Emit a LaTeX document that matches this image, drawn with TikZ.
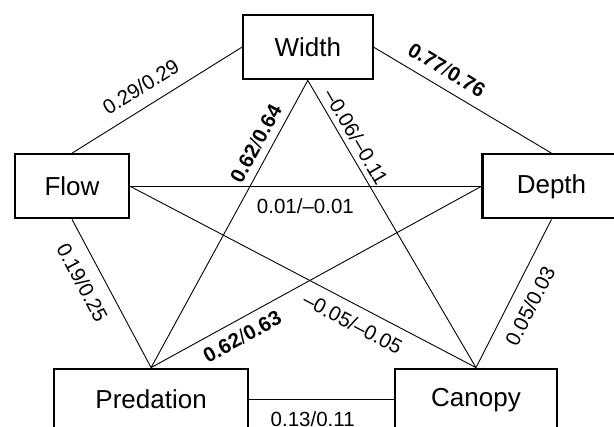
\documentclass[tikz,border=0pt]{standalone}
\usepackage{fontspec}
\setmainfont{Liberation Sans}
\begin{document}
\begin{tikzpicture}[x=1pt,y=-1pt,
  box/.style={draw=black, line width=2.2pt, fill=white, rectangle, inner sep=0pt,
    font=\fontsize{26}{31}\selectfont},
  link/.style={line width=0.9pt},
  lbl/.style={font=\fontsize{20.5}{24}\selectfont, inner sep=0pt, sloped},
]
\useasboundingbox (0,0) rectangle (614,427);
\clip (0,0) rectangle (614,427);
\node[box, minimum width=130pt, minimum height=64pt] (W) at (307.8,47.3) {Width};
\node[box, minimum width=114pt, minimum height=64pt] (F) at (72,186.3) {Flow};
\node[box, minimum width=138pt, minimum height=64pt] (D) at (551.5,186.3) {Depth};
\node[box, minimum width=194.4pt, minimum height=62pt] (P) at (151.1,399.7) {Predation};
\node[box, minimum width=162pt, minimum height=62pt] (C) at (476,399.7) {Canopy};

\draw[link] (W.west) -- node[lbl, pos=0.533, anchor=south, outer sep=12.3pt] {0.29/0.29} (F.north);
\draw[link] (W.east) -- node[lbl, pos=0.359, anchor=south, outer sep=10.6pt] {\textbf{0.77}/\textbf{0.76}} (D.north);
\draw[link] (P.north) -- node[lbl, pos=0.7555, anchor=south, outer sep=8.2pt] {\textbf{0.62}/\textbf{0.64}} (W.south);
\draw[link] (W.south) -- node[lbl, pos=0.219, anchor=south, outer sep=5.7pt] {–0.06/–0.11} (C.north);
\draw[link] (F.east) -- node[lbl, pos=0.499, anchor=north, outer sep=12.6pt] {0.01/–0.01} (D.west);
\draw[link] (F.south) -- node[lbl, pos=0.362, anchor=north, outer sep=13.1pt] {0.19/0.25} (P.north);
\draw[link] (P.north) -- node[lbl, pos=0.2514, anchor=north, outer sep=9pt] {\textbf{0.62}/\textbf{0.63}} (D.west);
\draw[link] (F.east) -- node[lbl, pos=0.668, anchor=north, outer sep=10.4pt] {–0.05/–0.05} (C.north);
\draw[link] (C.north) -- node[lbl, pos=0.478, anchor=north, outer sep=12.6pt] {0.05/0.03} (D.south);
\draw[link] (P.east) -- node[lbl, pos=0.438, anchor=north, outer sep=12pt] {0.13/0.11} (C.west);
\end{tikzpicture}
\end{document}
